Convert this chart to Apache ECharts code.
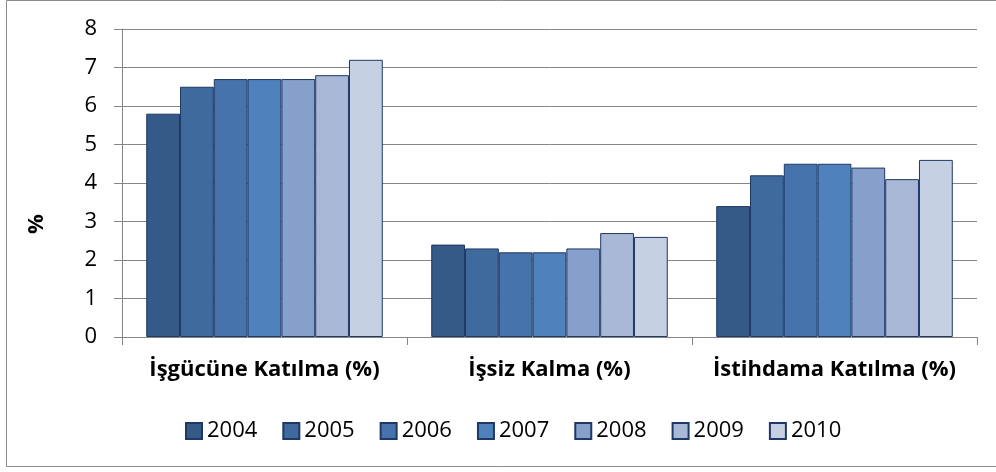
<!DOCTYPE html>
<html>
<head>
<meta charset="utf-8">
<script src="https://cdn.jsdelivr.net/npm/echarts@6/dist/echarts.min.js"></script>
<style>
  html, body { margin: 0; padding: 0; background: #fff; }
  #chart { width: 996px; height: 472px; }
</style>
</head>
<body>
<div id="chart"></div>
<script>
const categories = ['İşgücüne Katılma (%)', 'İşsiz Kalma (%)', 'İstihdama Katılma (%)']
const years = ['2004', '2005', '2006', '2007', '2008', '2009', '2010']
const v2004 = [5.8, 2.4, 3.4]
const v2005 = [6.5, 2.3, 4.2]
const v2006 = [6.7, 2.2, 4.5]
const v2007 = [6.7, 2.2, 4.5]
const v2008 = [6.7, 2.3, 4.4]
const v2009 = [6.8, 2.7, 4.1]
const v2010 = [7.2, 2.6, 4.6]
const yTicks = [0, 1, 2, 3, 4, 5, 6, 7, 8]

const values = [v2004, v2005, v2006, v2007, v2008, v2009, v2010]
const colors = ['#355a87', '#3f6a9e', '#4673ac', '#4f81bd', '#86a0cb', '#a9b8d6', '#c5d0e3']
const font = "'Open Sans', 'Noto Sans', sans-serif"

const chart = echarts.init(document.getElementById('chart'))

chart.setOption({
  animation: false,
  textStyle: { fontFamily: font },
  graphic: [{
    type: 'rect',
    shape: { x: 6.5, y: 0.5, width: 1000, height: 466 },
    style: { fill: 'none', stroke: '#8c8c8c', lineWidth: 1 },
    silent: true
  }, {
    // y axis title sits lower than the plot middle, as in the source
    type: 'text',
    x: 37,
    y: 224,
    rotation: Math.PI / 2,
    style: {
      text: '%', fontSize: 22, fontWeight: 'bold', fill: '#000',
      fontFamily: font, align: 'center', verticalAlign: 'middle'
    },
    silent: true
  }],
  grid: { left: 122, right: 19, top: 29, bottom: 135 },
  legend: {
    top: 415,
    left: 180,
    itemWidth: 16,
    itemHeight: 16,
    itemGap: 25,
    icon: 'rect',
    textStyle: { fontSize: 22, color: '#000', fontFamily: font },
    data: years
  },
  xAxis: {
    type: 'category',
    data: categories,
    axisLine: { lineStyle: { color: '#868686', width: 1 } },
    axisTick: { show: true, length: 8, lineStyle: { color: '#868686' } },
    axisLabel: { fontSize: 22, fontWeight: 'bold', color: '#000', margin: 22, interval: 0 }
  },
  yAxis: {
    type: 'value',
    min: 0,
    max: 8,
    interval: 1,
    axisLine: { show: true, lineStyle: { color: '#868686' } },
    axisTick: { show: true, length: 8, lineStyle: { color: '#868686' } },
    axisLabel: {
      fontSize: 22, color: '#000', margin: 25,
      formatter: v => yTicks.includes(v) ? String(v) : ''
    },
    splitLine: { lineStyle: { color: '#868686', width: 1 } }
  },
  series: years.map((y, i) => ({
    name: y,
    type: 'bar',
    data: values[i],
    barGap: '0%',
    barCategoryGap: '17%',
    itemStyle: { color: colors[i], borderColor: '#1f3864', borderWidth: 1 }
  }))
})
</script>
</body>
</html>
